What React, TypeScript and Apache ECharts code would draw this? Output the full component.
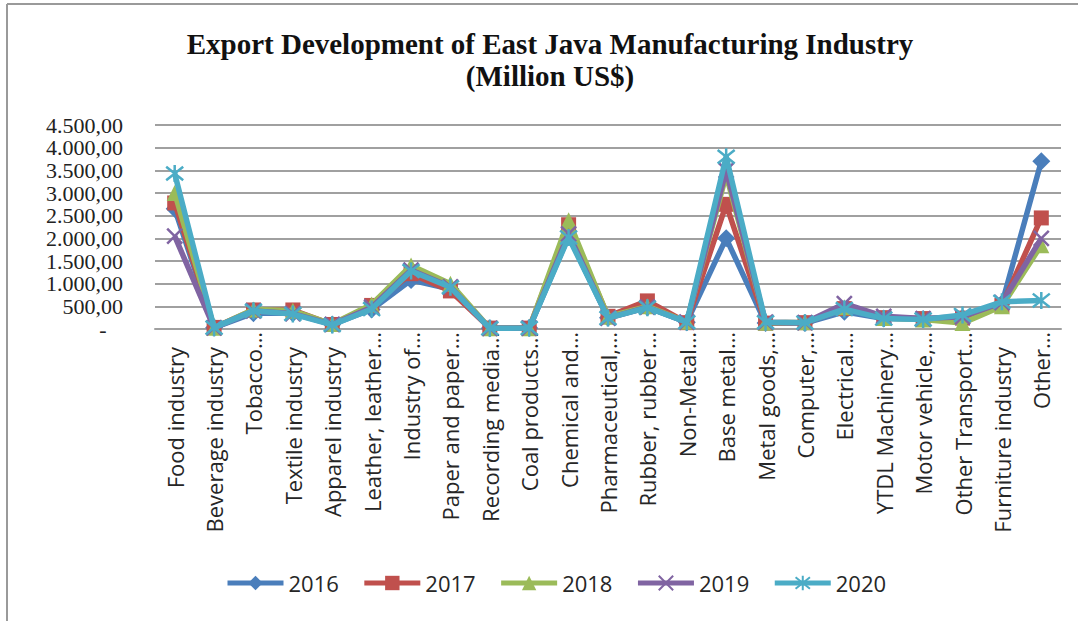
import React, { useEffect, useRef } from "react";
import * as echarts from "echarts";

const titleText = "Export Development of East Java Manufacturing Industry\n(Million US$)";
const categories = [
  "Food industry", "Beverage industry", "Tobacco…", "Textile industry", "Apparel industry",
  "Leather, leather…", "Industry of…", "Paper and paper…", "Recording media…", "Coal products…",
  "Chemical and…", "Pharmaceutical,…", "Rubber, rubber…", "Non-Metal…", "Base metal…",
  "Metal goods,…", "Computer,…", "Electrical…", "YTDL Machinery…", "Motor vehicle,…",
  "Other Transport…", "Furniture industry", "Other…",
];
const years = ["2016", "2017", "2018", "2019", "2020"];
const v2016 = [2650, 30, 350, 350, 100, 430, 1080, 880, 15, 20, 2050, 250, 480, 150, 2000, 130, 130, 380, 230, 220, 250, 560, 3700];
const v2017 = [2780, 35, 420, 420, 100, 520, 1220, 840, 20, 20, 2300, 280, 620, 140, 2750, 130, 140, 450, 250, 230, 240, 520, 2450];
const v2018 = [3000, 30, 430, 400, 110, 540, 1400, 1000, 15, 15, 2400, 270, 500, 160, 3400, 140, 150, 480, 240, 210, 130, 500, 1850];
const v2019 = [2050, 25, 400, 340, 100, 480, 1300, 930, 15, 20, 2100, 240, 480, 150, 3500, 150, 140, 560, 280, 230, 270, 580, 2000];
const v2020 = [3430, 30, 400, 330, 90, 440, 1280, 920, 15, 20, 2020, 240, 470, 150, 3800, 150, 140, 440, 230, 210, 310, 600, 630];
const seriesValues = [v2016, v2017, v2018, v2019, v2020];
const colors = ["#4a7ebb", "#c0504d", "#9bbb59", "#8064a2", "#4bacc6"];
const symbols = [
  "diamond",
  "rect",
  "triangle",
  "path://M0,0L10,10M10,0L0,10",
  "path://M0,1L10,9M10,1L0,9M5,0L5,10",
];
const symbolSizes = [18, 15, 16, 15, 17];

function fmt(v: number): string {
  if (v === 0) return "-   ";
  const s = Math.round(v).toString().replace(/\B(?=(\d{3})+(?!\d))/g, ".");
  return s + ",00";
}

export default function App() {
  const ref = useRef<HTMLDivElement>(null);
  useEffect(() => {
    if (!ref.current) return;
    const chart = echarts.init(ref.current, null, { renderer: "svg" });
    const strokeSym = (i: number) => i >= 3;
    chart.setOption({
      animation: false,
      backgroundColor: "#ffffff",
      graphic: [
        { type: "line", shape: { x1: 7, y1: 4, x2: 1078, y2: 4 }, style: { stroke: "#9a9a9a", lineWidth: 2 } },
        { type: "line", shape: { x1: 7, y1: 4, x2: 7, y2: 621 }, style: { stroke: "#9a9a9a", lineWidth: 2 } },
        {
          type: "text",
          x: 550,
          y: 28,
          style: {
            text: titleText,
            font: "bold 29px 'Liberation Serif', 'Times New Roman', serif",
            fill: "#111111",
            textAlign: "center",
            lineHeight: 32,
          },
        },
      ],
      legend: {
        data: years,
        left: 220,
        top: 567,
        itemWidth: 56,
        itemHeight: 18,
        itemGap: 23,
        lineStyle: { width: 5 },
        textStyle: { fontFamily: "'Open Sans', sans-serif", fontSize: 22, color: "#262626" },
      },
      grid: { left: 155, right: 17, top: 125, bottom: 292 },
      xAxis: {
        type: "category",
        data: categories,
        boundaryGap: true,
        axisLine: { show: true, lineStyle: { color: "#a0a0a0", width: 2 } },
        axisTick: { show: false },
        axisLabel: {
          interval: 0,
          rotate: 90,
          margin: 3,
          color: "#262626",
          fontFamily: "'Open Sans', sans-serif",
          fontSize: 22,
          formatter: (v: string) => (v.endsWith("…") ? `{t|${v}}` : `{f|${v}}`),
          rich: {
            t: { fontFamily: "'Open Sans', sans-serif", fontSize: 22, color: "#262626" },
            f: { fontFamily: "'Open Sans', sans-serif", fontSize: 22, color: "#262626", padding: [0, 15, 0, 0] },
          },
        },
      },
      yAxis: {
        type: "value",
        min: 0,
        max: 4500,
        interval: 500,
        axisLine: { show: false },
        axisTick: { show: false },
        splitLine: { lineStyle: { color: "#a0a0a0", width: 2 } },
        axisLabel: {
          margin: 32,
          color: "#222222",
          fontFamily: "Liberation Serif",
          fontSize: 22,
          lineHeight: 20,
          formatter: (v: number) => fmt(v),
        },
      },
      series: years.map((y, i) => ({
        name: y,
        type: "line",
        data: seriesValues[i],
        symbol: symbols[i],
        symbolSize: symbolSizes[i],
        showAllSymbol: true,
        lineStyle: { color: colors[i], width: 5.5 },
        itemStyle: strokeSym(i)
          ? { color: colors[i], borderColor: colors[i], borderWidth: 2.5 }
          : { color: colors[i] },
        z: 2 + i,
      })),
    });
    return () => chart.dispose();
  }, []);
  return (
    <div
      ref={ref}
      style={{ position: "fixed", left: 0, top: 0, width: 1078, height: 621 }}
    />
  );
}
